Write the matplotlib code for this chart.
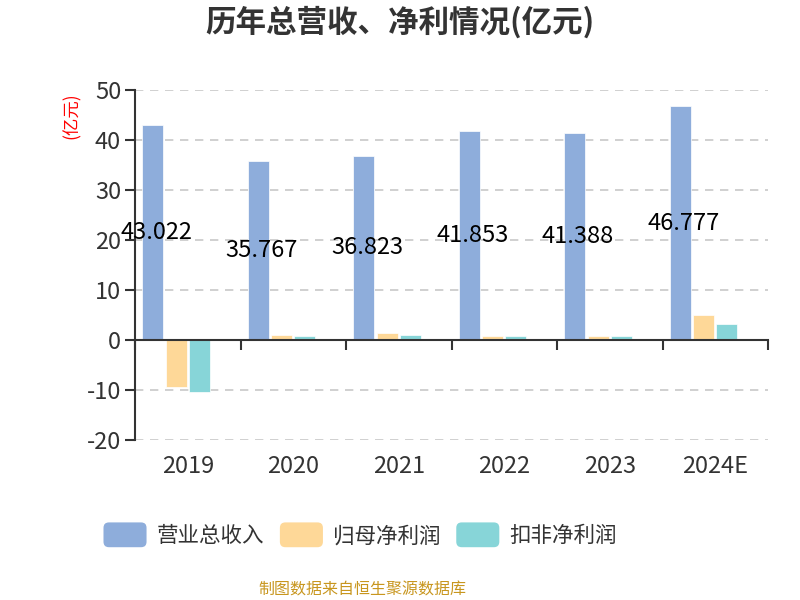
import numpy as np
import matplotlib.pyplot as plt
from matplotlib.patches import FancyBboxPatch
from matplotlib.legend_handler import HandlerPatch
from matplotlib.container import BarContainer

plt.rcParams['font.family'] = ['Noto Sans CJK SC', 'DejaVu Sans']
plt.rcParams['axes.unicode_minus'] = False

years = ['2019', '2020', '2021', '2022', '2023', '2024E']
revenue = [43.022, 35.767, 36.823, 41.853, 41.388, 46.777]
net_profit = [-9.33, 1.0, 1.33, 0.8, 0.87, 5.0]
deducted_profit = [-10.5, 0.8, 1.0, 0.73, 0.87, 3.2]

series_names = ['营业总收入', '归母净利润', '扣非净利润']
colors = ['#8eaddb', '#fed898', '#87d5d8']


class RoundHandler(HandlerPatch):
    def create_artists(self, legend, orig_handle, xdescent, ydescent,
                       width, height, fontsize, trans):
        fc = orig_handle.patches[0].get_facecolor()
        h = height * 1.2
        p = FancyBboxPatch((-xdescent, -ydescent - (h - height) / 2), width, h,
                           boxstyle='round,pad=0,rounding_size=%f' % (h * 0.22),
                           facecolor=fc, edgecolor='none', transform=trans)
        return [p]


fig = plt.figure(figsize=(8, 6), dpi=100)
ax = fig.add_axes([0.16875, 0.2667, 0.79125, 0.5833])

x = np.arange(len(years))
w = 0.2
offsets = [-0.33, -0.11, 0.11]
data = [revenue, net_profit, deducted_profit]
bars = []
for off, vals, c, name in zip(offsets, data, colors, series_names):
    b = ax.bar(x + off, vals, w, color=c, label=name, edgecolor='white', linewidth=0.5)
    bars.append(b)

# revenue labels at the middle of the bar
for xi, v in zip(x, revenue):
    ax.text(xi - 0.3, v / 2, '%.3f' % v, ha='center', va='center', fontsize=17, color='black')

ax.set_xlim(-0.5, len(years) - 0.5)
ax.set_ylim(-20, 50)
ax.set_yticks(np.arange(-20, 51, 10))
ax.yaxis.grid(True, linestyle=(0, (5, 4)), color='#c8c8c8', linewidth=1.2)
ax.set_axisbelow(True)

for s in ['top', 'right']:
    ax.spines[s].set_visible(False)
ax.spines['left'].set_color('#333333')
ax.spines['left'].set_linewidth(1.5)
ax.spines['bottom'].set_position(('data', 0))
ax.spines['bottom'].set_color('#333333')
ax.spines['bottom'].set_linewidth(1.5)

ax.set_xticks(np.arange(-0.5, len(years), 1))
ax.tick_params(axis='x', direction='out', length=7, width=1.5, color='#333333', labelbottom=False)
ax.tick_params(axis='y', direction='out', length=7, width=1.5, color='#333333',
               labelsize=17, labelcolor='#333333', pad=3)

for xi, yr in zip(x, years):
    ax.text(xi, -0.075, yr, transform=ax.get_xaxis_transform(), ha='center', va='center',
            fontsize=17, color='#333333')

fig.text(0.09, 0.808, '(亿元)', rotation=90, color='red', fontsize=12.5, ha='center', va='center')
fig.text(0.5, 0.962, '历年总营收、净利情况(亿元)', ha='center', va='center',
         fontsize=22, fontweight='bold', color='#333333')

fig.legend(handles=bars, labels=series_names, loc='center', bbox_to_anchor=(0.45, 0.107),
           ncol=3, frameon=False, fontsize=15.5, handlelength=2.0, handleheight=1.1,
           handletextpad=0.45, columnspacing=0.75, labelcolor='#333333',
           handler_map={BarContainer: RoundHandler()})

fig.text(0.4525, 0.017, '制图数据来自恒生聚源数据库', ha='center', va='center',
         fontsize=11.5, color='#c8961e')

fig.savefig('out.png', dpi=100)
